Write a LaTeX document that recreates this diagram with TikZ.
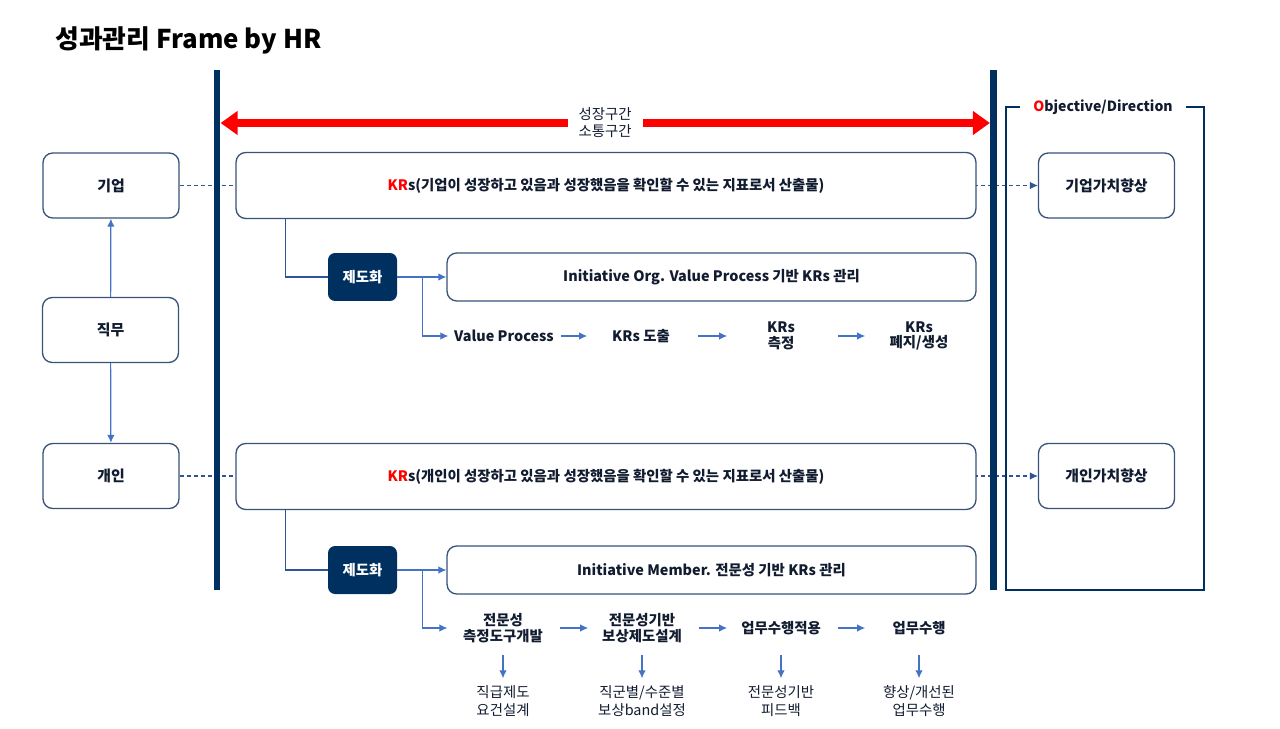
\documentclass[tikz,border=0pt]{standalone}
\usepackage{fontspec}
\setmainfont{Noto Sans CJK KR}
\usetikzlibrary{arrows.meta, positioning, calc, backgrounds}
\definecolor{barnavy}{RGB}{0,48,96}
\definecolor{boxedge}{RGB}{56,82,122}
\definecolor{flowblue}{RGB}{68,114,196}
\definecolor{dashblue}{RGB}{47,85,151}
\definecolor{inknavy}{RGB}{18,28,48}
\definecolor{alertred}{RGB}{255,0,0}

\begin{document}
\begin{tikzpicture}[
    x=0.02cm, y=-0.02cm,
    every node/.style={font=\fontsize{8.2}{9.6}\selectfont, text=inknavy},
    block/.style={rectangle, draw=boxedge, fill=white, line width=0.75pt, rounded corners=5.5pt, align=center, font=\fontsize{8.5}{10}\selectfont\bfseries},
    unitbox/.style={block, minimum width=2.72cm, minimum height=1.3cm},
    krsbox/.style={block, minimum width=14.8cm, minimum height=1.32cm, font=\fontsize{8.2}{10}\selectfont\bfseries},
    mgmtbox/.style={block, minimum width=10.58cm, minimum height=0.96cm, font=\fontsize{8.2}{10}\selectfont\bfseries},
    instbox/.style={rectangle, fill=barnavy, rounded corners=4pt, minimum width=1.38cm, minimum height=0.96cm, text=white, font=\fontsize{8.2}{10}\selectfont\bfseries},
    bar/.style={rectangle, fill=barnavy, minimum width=0.13cm, minimum height=10.4cm, inner sep=0pt},
    stepnode/.style={minimum width=2cm, minimum height=0.72cm, inner sep=0pt, align=center, font=\fontsize{8.2}{9}\selectfont\bfseries},
    resultnode/.style={minimum width=2cm, inner sep=0pt, align=center, font=\fontsize{8.2}{10}\selectfont},
    arrow/.style={-{Latex[length=1.6mm, width=1.5mm]}, flowblue, line width=0.7pt},
    link/.style={dashblue, line width=0.7pt},
    dashlink/.style={-{Latex[length=1.6mm, width=1.5mm]}, dashblue, line width=0.6pt, dash pattern=on 2.5pt off 1.5pt},
    growth/.style={{Triangle[length=0.34cm, width=0.46cm]}-{Triangle[length=0.34cm, width=0.46cm]}, alertred, line width=0.16cm},
    frameline/.style={barnavy, line width=0.75pt}
]
\useasboundingbox (0,0) rectangle (1280,729);

% title
\node[anchor=west, inner sep=0pt, text=black, font=\fontsize{14.7}{17}\selectfont\bfseries] (title) at (55,40) {성과관리 Frame by HR};

% growth zone bars
\node[bar] (lbar) at (217,330) {};
\node[bar] (rbar) at (993.5,330) {};
\node[fill=white, inner xsep=0.22cm, align=center, font=\fontsize{8.2}{9.6}\selectfont] (span) at (605,123) {성장구간\\소통구간};

% objective frame
\node[inner xsep=0.25cm, font=\fontsize{8}{10}\selectfont\bfseries] (objlbl) at (1103,107) {\textcolor{alertred}{O}bjective/Direction};
\coordinate (objbl) at (1006,590);
\coordinate (objbr) at (1204,590);

% left column
\node[unitbox] (corp) at (111,185.5) {기업};
\node[unitbox] (job) at (110.5,330) {직무};
\node[unitbox] (indiv) at (111,476) {개인};

% KRs rows
\node[krsbox] (krs1) at (606,185.5) {\textcolor{alertred}{KR}s(기업이 성장하고 있음과 성장했음을 확인할 수 있는 지표로서 산출물)};
\node[krsbox] (krs2) at (606,476.5) {\textcolor{alertred}{KR}s(개인이 성장하고 있음과 성장했음을 확인할 수 있는 지표로서 산출물)};

% right column
\node[unitbox] (corpval) at (1106.5,185.5) {기업가치향상};
\node[unitbox] (indval) at (1106.5,476) {개인가치향상};

% organisation track
\node[instbox] (inst1) at (362.5,277) {제도화};
\node[mgmtbox] (mgmt1) at (711.5,277) {Initiative Org. Value Process 기반 KRs 관리};
\node[stepnode] (vp) at (504,336) {Value Process};
\node[stepnode] (kd) at (641,336) {KRs 도출};
\node[stepnode] (km) at (781,336) {KRs\\측정};
\node[stepnode] (kp) at (919,336) {KRs\\폐지/생성};

% member track
\node[instbox] (inst2) at (362.5,570) {제도화};
\node[mgmtbox] (mgmt2) at (711.5,570) {Initiative Member. 전문성 기반 KRs 관리};
\node[stepnode] (tool) at (503,628) {전문성\\측정도구개발};
\node[stepnode] (comp) at (642,628) {전문성기반\\보상제도설계};
\node[stepnode] (apply) at (781,628) {업무수행적용};
\node[stepnode] (perf) at (919,628) {업무수행};
\node[resultnode] (grade) at (503,701) {직급제도\\요건설계};
\node[resultnode] (band) at (642,701) {직군별/수준별\\보상band설정};
\node[resultnode] (fback) at (781,701) {전문성기반\\피드백};
\node[resultnode] (better) at (919,701) {향상/개선된\\업무수행};

\begin{scope}[on background layer]
\draw[dashlink] (corp.east) -- (corpval.west);
\draw[dashlink] (indiv.east) -- (indval.west);
\draw[growth] (lbar.east |- span) -- (rbar.west |- span);
\draw[frameline] (objlbl.west) -| (objbl) -- (objbr) |- (objlbl.east);
\end{scope}

\draw[arrow] (job) -- (corp);
\draw[arrow] (job) -- (indiv);

\draw[link] ([xshift=1cm]krs1.south west) |- (inst1.west);
\draw[arrow] (inst1) -- (mgmt1);
\draw[arrow, shorten >=3pt] ([xshift=0.5cm]inst1.east) |- (vp.west);
\draw[arrow, shorten <=4pt, shorten >=2pt] (vp) -- (kd);
\draw[arrow, shorten <=4pt, shorten >=2pt] (kd) -- (km);
\draw[arrow, shorten <=4pt, shorten >=2pt] (km) -- (kp);

\draw[link] ([xshift=1cm]krs2.south west) |- (inst2.west);
\draw[arrow] (inst2) -- (mgmt2);
\draw[arrow, shorten >=3pt] ([xshift=0.5cm]inst2.east) |- (tool.west);
\draw[arrow, shorten <=4pt, shorten >=2pt] (tool) -- (comp);
\draw[arrow, shorten <=4pt, shorten >=2pt] (comp) -- (apply);
\draw[arrow, shorten <=4pt, shorten >=2pt] (apply) -- (perf);
\foreach \up/\down in {tool/grade, comp/band, apply/fback, perf/better}
  \draw[arrow, shorten <=5pt, shorten >=4pt] (\up) -- (\down);

\end{tikzpicture}
\end{document}
